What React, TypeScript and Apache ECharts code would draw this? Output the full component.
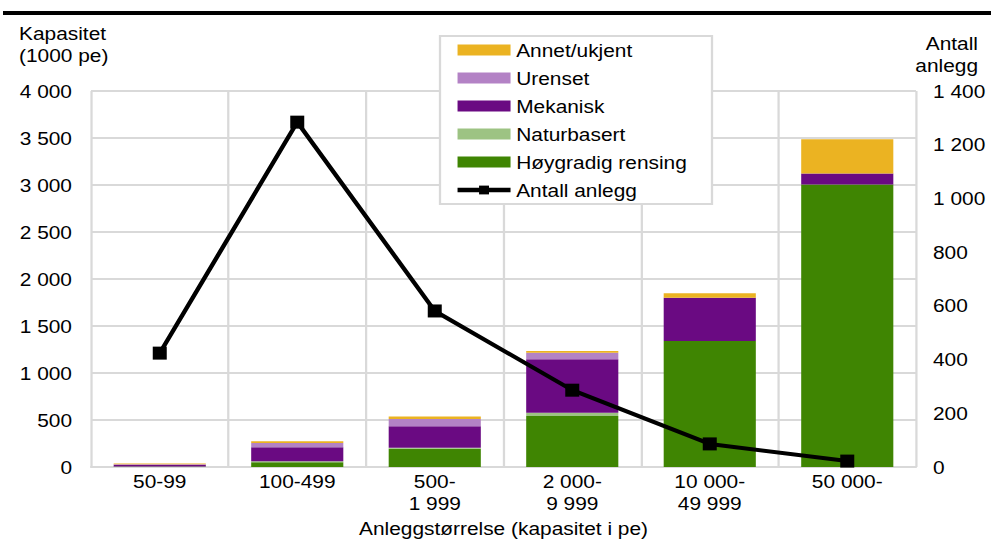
import React, { useEffect, useRef } from "react";
import * as echarts from "echarts";

// Plant size classes (capacity in person equivalents)
const categories = [
  "50-99",
  "100-499",
  "500-\n1 999",
  "2 000-\n9 999",
  "10 000-\n49 999",
  "50 000-",
];

// Capacity per treatment type, in 1000 pe
const hoygradig = [3, 50, 195, 543, 1340, 3005];
const naturbasert = [2, 10, 10, 35, 0, 0];
const mekanisk = [20, 150, 228, 568, 461, 117];
const urenset = [5, 45, 78, 70, 0, 0];
const annet = [8, 18, 25, 18, 47, 365];

// Number of plants per size class
const antallAnlegg = [424, 1284, 581, 286, 86, 22];

const FONT = "Liberation Sans, Arial, sans-serif";
const GRID = "#d9d9d9";
const FS = 18.5;

// The chart is drawn in a narrower box and widened with a horizontal scale,
// which gives the wide-set lettering of the printed figure.
const SX = 1.13;
const W = 991;
const H = 543;
const px = (v: number) => v / SX;

const fmt = (v: number) => String(v).replace(/\B(?=(\d{3})+(?!\d))/g, " ");

export default function App() {
  const ref = useRef<HTMLDivElement>(null);

  useEffect(() => {
    if (!ref.current) return;
    const chart = echarts.init(ref.current, undefined, { renderer: "svg" });

    const bar = (name: string, data: number[], color: string) => ({
      name,
      type: "bar",
      stack: "kap",
      data,
      barCategoryGap: "33%",
      itemStyle: { color },
    });

    const text = { fontFamily: FONT, fontSize: FS, color: "#000" };

    chart.setOption({
      animation: false,
      textStyle: { fontFamily: FONT },
      grid: { left: px(91), right: px(75), top: 91, bottom: 76, containLabel: false },
      legend: {
        orient: "vertical",
        left: px(440),
        top: 36,
        padding: [3, px(25), 3, px(15)],
        itemWidth: px(53),
        itemHeight: 11,
        itemGap: 6,
        backgroundColor: "#ffffff",
        borderColor: GRID,
        borderWidth: 2,
        borderRadius: 0,
        textStyle: { ...text, lineHeight: 22 },
        data: [
          { name: "Annet/ukjent", icon: "rect" },
          { name: "Urenset", icon: "rect" },
          { name: "Mekanisk", icon: "rect" },
          { name: "Naturbasert", icon: "rect" },
          { name: "Høygradig rensing", icon: "rect" },
          { name: "Antall anlegg", lineStyle: { width: 4.5, color: "#000" } },
        ],
      },
      xAxis: {
        type: "category",
        data: categories,
        boundaryGap: true,
        name: "Anleggstørrelse (kapasitet i pe)",
        nameLocation: "middle",
        nameGap: 47,
        nameTextStyle: { ...text, verticalAlign: "top" },
        axisLine: { show: true, lineStyle: { color: GRID, width: 2 } },
        axisTick: { show: false },
        axisLabel: { ...text, margin: 3, lineHeight: 22, interval: 0 },
        splitLine: { show: true, lineStyle: { color: GRID, width: 2 } },
      },
      yAxis: [
        {
          type: "value",
          min: 0,
          max: 4000,
          interval: 500,
          axisLine: { show: false },
          axisTick: { show: false },
          axisLabel: { ...text, margin: px(19), formatter: (v: number) => fmt(v) },
          splitLine: { show: true, lineStyle: { color: GRID, width: 2 } },
        },
        {
          type: "value",
          min: 0,
          max: 1400,
          interval: 200,
          axisLine: { show: false },
          axisTick: { show: false },
          axisLabel: { ...text, margin: px(17), formatter: (v: number) => fmt(v) },
          splitLine: { show: false },
        },
      ],
      series: [
        bar("Høygradig rensing", hoygradig, "#3f8502"),
        bar("Naturbasert", naturbasert, "#9dc383"),
        bar("Mekanisk", mekanisk, "#6a0a82"),
        bar("Urenset", urenset, "#b382c5"),
        bar("Annet/ukjent", annet, "#ebb322"),
        {
          name: "Antall anlegg",
          type: "line",
          yAxisIndex: 1,
          data: antallAnlegg,
          symbol: "rect",
          symbolSize: [px(14), 13],
          z: 5,
          lineStyle: { color: "#000", width: 4 },
          itemStyle: { color: "#000" },
        },
      ],
      graphic: [
        {
          type: "rect",
          shape: { x: px(3), y: 11, width: px(988), height: 4 },
          style: { fill: "#000" },
        },
        {
          type: "text",
          x: px(19),
          y: 22,
          style: {
            text: "Kapasitet\n(1000 pe)",
            fontFamily: FONT,
            fontSize: FS,
            lineHeight: 22,
            fill: "#000",
            align: "left",
            verticalAlign: "top",
          },
        },
        {
          type: "text",
          x: px(978),
          y: 32,
          style: {
            text: "Antall\nanlegg",
            fontFamily: FONT,
            fontSize: FS,
            lineHeight: 22,
            fill: "#000",
            align: "right",
            verticalAlign: "top",
          },
        },
      ],
    });

    return () => chart.dispose();
  }, []);

  return (
    <div style={{ position: "absolute", left: 0, top: 0, width: W, height: H, overflow: "hidden" }}>
      <div
        ref={ref}
        style={{
          width: px(W),
          height: H,
          transform: `scaleX(${SX})`,
          transformOrigin: "0 0",
        }}
      />
    </div>
  );
}
